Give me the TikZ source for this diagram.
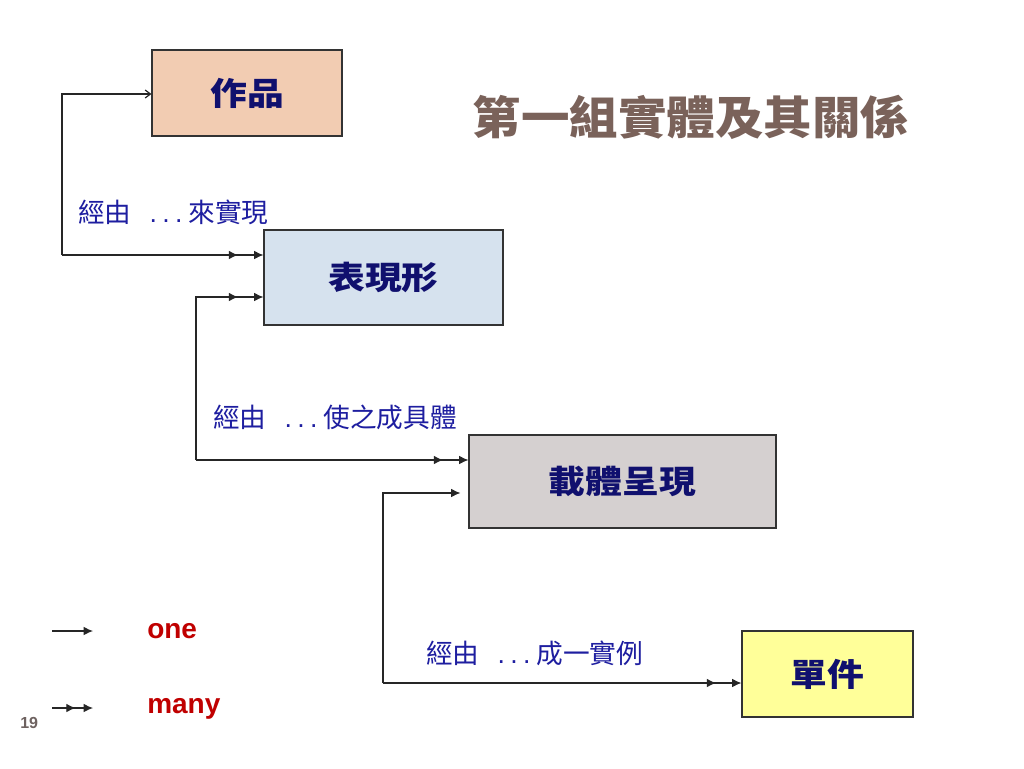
\documentclass[tikz,border=0pt]{standalone}
\usepackage{fontspec}
\setmainfont{Liberation Sans}
\newfontfamily\cjkbox[FakeStretch=1.15]{Noto Sans CJK TC}
\newfontfamily\cjklbl{Noto Sans CJK TC}
\newfontfamily\cjktitle[FakeStretch=1.07]{Noto Sans CJK TC}
\newfontfamily\latinfont{Liberation Sans}
\usetikzlibrary{arrows.meta,decorations.markings}
\definecolor{navytxt}{RGB}{16,16,110}
\definecolor{lblblue}{RGB}{30,30,160}
\definecolor{titlebrown}{RGB}{122,98,90}
\definecolor{onered}{RGB}{192,0,0}
\definecolor{pagegray}{RGB}{110,98,96}
\definecolor{fillA}{RGB}{242,204,178}
\definecolor{fillB}{RGB}{214,226,238}
\definecolor{fillC}{RGB}{213,208,208}
\definecolor{fillD}{RGB}{255,255,153}
\tikzset{
  box/.style={draw=black!80, line width=0.8pt, inner sep=0pt, text=navytxt,
    font=\cjkbox\bfseries\fontsize{24}{28}\selectfont},
  conn/.style={draw=black!85, line width=0.9pt},
  onearrow/.style={conn, -{Latex[length=7pt,width=6.5pt]}},
  openarrow/.style={conn, -{Straight Barb[length=4pt,width=6pt]}},
  many/.style={conn, -{Latex[length=7pt,width=6.5pt]}, postaction={decorate},
    decoration={markings, mark=at position -19pt with {\arrow{Latex[length=7pt,width=6.5pt]}}}},
  lbl/.style={anchor=west, inner sep=0pt, text=lblblue, font=\cjklbl\fontsize{20}{23}\selectfont},
  legend/.style={anchor=base west, inner sep=0pt, text=onered, font=\bfseries\fontsize{21}{24}\selectfont},
}
\newcommand{\mydots}{\hspace{13.5pt}{\latinfont .\hspace{4pt}.\hspace{4pt}.}\hspace{4.5pt}}
\begin{document}
\begin{tikzpicture}[x=0.75pt,y=-0.75pt]
\path[use as bounding box, fill=white] (0,0) rectangle (1024,768);

% boxes
\node[box, fill=fillA, minimum width=142.5pt, minimum height=64.5pt] (A) at (247,93) {作品};
\node[box, fill=fillB, minimum width=179.25pt, minimum height=71.25pt] (B) at (383.5,277.5) {表現形};
\node[box, fill=fillC, minimum width=230.25pt, minimum height=69.75pt] (C) at (622.5,481.5) {載體呈現};
\node[box, fill=fillD, minimum width=128.25pt, minimum height=64.5pt] (D) at (827.5,674) {單件};

% title
\node[inner sep=0pt, text=titlebrown, font=\cjktitle\bfseries\fontsize{34}{38}\selectfont] (T) at (691,117) {第一組實體及其關係};

% labels
\node[lbl] (L1) at (78,212) {經由\mydots 來實現};
\node[lbl] (L2) at (213,417) {經由\mydots 使之成具體};
\node[lbl] (L3) at (426,653) {經由\mydots 成一實例};

% connectors
\coordinate (p1) at (62,94);
\coordinate (p2) at (62,255);
\draw[openarrow] (p2) -- (p1) -- (A.west |- p1);
\draw[many] (p2) -- (B.west |- p2);

\coordinate (q1) at (196,297);
\coordinate (q2) at (196,460);
\draw[many] (q2) -- (q1) -- (B.west |- q1);
\draw[many] (q2) -- (C.west |- q2);

\coordinate (r1) at (383,493);
\coordinate (r2) at (383,683);
\draw[onearrow, shorten >=6pt] (r2) -- (r1) -- (C.west |- r1);
\draw[many] (r2) -- (D.west |- r2);

% legend
\coordinate (o1) at (52,631);
\coordinate (o2) at (93,631);
\draw[onearrow] (o1) -- (o2);
\coordinate (m1) at (52,708);
\coordinate (m2) at (93,708);
\draw[conn, -{Latex[length=7pt,width=6.5pt]}, postaction={decorate},
  decoration={markings, mark=at position -13pt with {\arrow{Latex[length=7pt,width=6.5pt]}}}] (m1) -- (m2);
\node[legend] (one) at (147,638) {one};
\node[legend] (many) at (147,713) {many};

% page number
\node[anchor=base west, inner sep=0pt, text=pagegray, font=\bfseries\fontsize{12}{14}\selectfont] (pg) at (20,728) {19};
\end{tikzpicture}
\end{document}
